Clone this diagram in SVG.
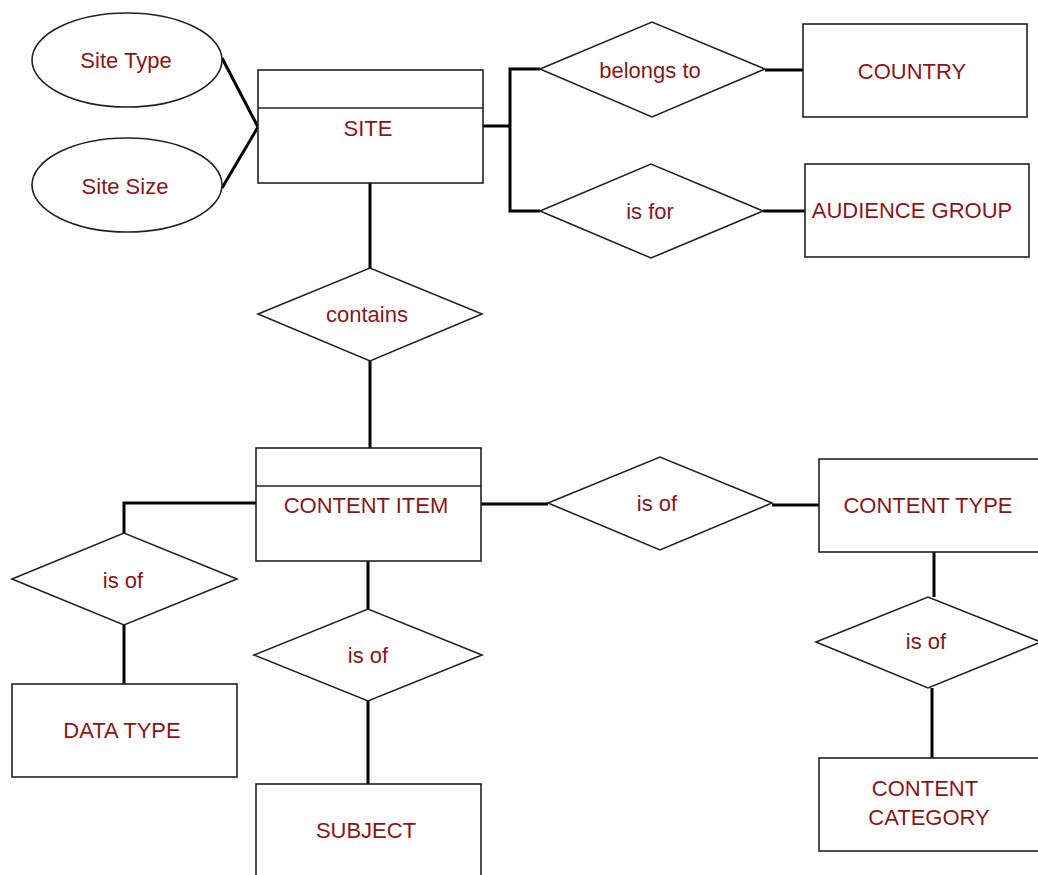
<svg xmlns="http://www.w3.org/2000/svg" width="1038" height="875" viewBox="0 0 1038 875">
<style>
.box{fill:#fff;stroke:#222;stroke-width:1.6}
.rel{fill:#fff;stroke:#222;stroke-width:1.6}
.conn{fill:none;stroke:#000;stroke-width:3}
text{font-family:"Liberation Sans",Arial,sans-serif;font-size:22px;fill:#8c1616;text-anchor:middle;dominant-baseline:central}
</style>
<rect width="1038" height="875" fill="#fff"/>
<g id="connectors">
<path class="conn" d="M222,58 L258,127 L222,188"/>
<path class="conn" d="M483,126 H510 M540,69 H510 V211 H540"/>
<path class="conn" d="M765,70 H803"/>
<path class="conn" d="M763,211 H805"/>
<path class="conn" d="M370,183 V268"/>
<path class="conn" d="M370,361 V448"/>
<path class="conn" d="M256,503 H124 V533"/>
<path class="conn" d="M124,625 V684"/>
<path class="conn" d="M368,561 V609"/>
<path class="conn" d="M368,701 V784"/>
<path class="conn" d="M481,504 H548"/>
<path class="conn" d="M772,505 H819"/>
<path class="conn" d="M934,552 V597"/>
<path class="conn" d="M932,688 V758"/>
</g>
<g id="site-type"><ellipse class="box" cx="127" cy="60" rx="95" ry="47"/><text x="126" y="60">Site Type</text></g>
<g id="site-size"><ellipse class="box" cx="127" cy="185" rx="95" ry="47"/><text x="125" y="186">Site Size</text></g>
<g id="site"><rect class="box" x="258" y="70" width="225" height="113"/><line class="box" x1="258" y1="108" x2="483" y2="108"/><text x="368" y="128">SITE</text></g>
<g id="belongs-to"><polygon class="rel" points="540,69 652,22 765,69 652,117"/><text x="650" y="70">belongs to</text></g>
<g id="country"><rect class="box" x="803" y="24" width="224" height="93"/><text x="912" y="71">COUNTRY</text></g>
<g id="is-for"><polygon class="rel" points="540,211 651,164 763,211 651,258"/><text x="650" y="211">is for</text></g>
<g id="audience-group"><rect class="box" x="805" y="164" width="224" height="93"/><text x="912" y="210">AUDIENCE GROUP</text></g>
<g id="contains"><polygon class="rel" points="258,314 370,268 482,314 370,361"/><text x="367" y="314">contains</text></g>
<g id="content-item"><rect class="box" x="256" y="448" width="225" height="113"/><line class="box" x1="256" y1="486" x2="481" y2="486"/><text x="366" y="505">CONTENT ITEM</text></g>
<g id="is-of-data"><polygon class="rel" points="12,579 124,533 237,579 124,625"/><text x="123" y="580">is of</text></g>
<g id="data-type"><rect class="box" x="12" y="684" width="225" height="93"/><text x="122" y="730">DATA TYPE</text></g>
<g id="is-of-subject"><polygon class="rel" points="254,655 368,609 482,655 368,701"/><text x="368" y="655">is of</text></g>
<g id="subject"><rect class="box" x="256" y="784" width="225" height="96"/><text x="366" y="830">SUBJECT</text></g>
<g id="is-of-content-type"><polygon class="rel" points="548,503 660,457 772,503 660,550"/><text x="657" y="503">is of</text></g>
<g id="content-type"><rect class="box" x="819" y="459" width="224" height="93"/><text x="928" y="505">CONTENT TYPE</text></g>
<g id="is-of-category"><polygon class="rel" points="816,642 928,597 1041,642 928,688"/><text x="926" y="641">is of</text></g>
<g id="content-category"><rect class="box" x="819" y="758" width="224" height="93"/><text x="925" y="788">CONTENT</text><text x="929" y="817">CATEGORY</text></g>
</svg>
